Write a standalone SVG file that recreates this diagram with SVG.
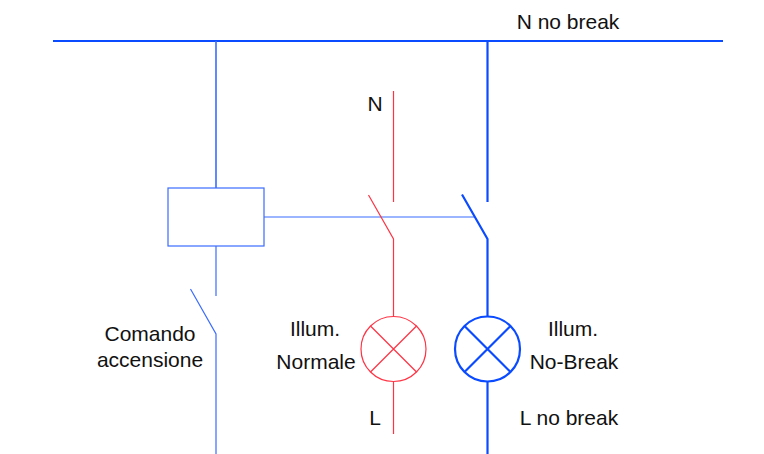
<svg xmlns="http://www.w3.org/2000/svg" width="764" height="454" viewBox="0 0 764 454">
<style>
text{font-family:"Liberation Sans",Arial,sans-serif;font-size:21px;fill:#111;text-anchor:middle}
.c{fill:none;stroke-linecap:butt}
.b{stroke:#0a4bff;stroke-width:2.2}
.t{stroke:#3a6cff;stroke-width:1.2}
.r{stroke:#ff3344;stroke-width:1.2}
</style>
<rect width="764" height="454" fill="#fff"/>
<g id="connectors">
<path class="c b" d="M53 41H723"/>
<path class="c t" style="stroke-width:1.6" d="M216 41V188"/>
<path class="c b" d="M487.500 41V202"/>
<path class="c t" d="M264 217H475"/>
<path class="c t" d="M216 246V296"/>
<path class="c t" d="M190.500 289L216 334V454"/>
<path class="c r" d="M393.500 91V202"/>
<path class="c r" d="M368.500 195L393.500 239V316"/>
<path class="c r" d="M393.500 382V434"/>
<path class="c b" d="M462 194.500L487.500 239V316"/>
<path class="c b" d="M487.500 382V454"/>
</g>
<g id="relay"><rect class="c t" x="168" y="188" width="96" height="58"/></g>
<g id="lamp-normale">
<circle class="c r" cx="393.500" cy="349" r="32.500"/>
<path class="c r" d="M370.500 326L416.500 372M416.500 326L370.500 372"/>
</g>
<g id="lamp-nobreak">
<circle class="c b" cx="487.500" cy="349" r="32.500"/>
<path class="c b" d="M464.500 326L510.500 372M510.500 326L464.500 372"/>
</g>
<g id="labels">
<text x="568" y="29">N no break</text>
<text x="375" y="111">N</text>
<text x="150" y="341">Comando</text>
<text x="150" y="367">accensione</text>
<text x="315" y="336">Illum.</text>
<text x="316" y="369">Normale</text>
<text x="573" y="336">Illum.</text>
<text x="574" y="369">No-Break</text>
<text x="375" y="425">L</text>
<text x="569" y="425">L no break</text>
</g>
</svg>
